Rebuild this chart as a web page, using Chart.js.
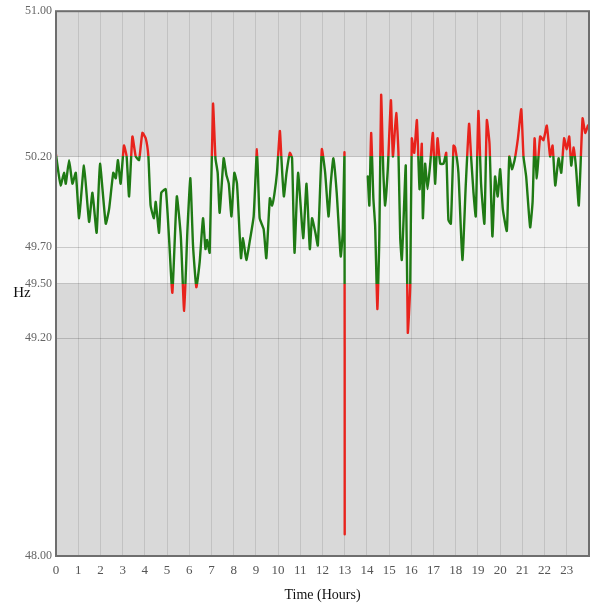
<!DOCTYPE html>
<html>
<head>
<meta charset="utf-8">
<script src="https://cdn.jsdelivr.net/npm/chart.js@4"></script>
<style>
html,body{margin:0;padding:0;background:#fff;}
#wrap{width:592px;height:606px;}
</style>
</head>
<body>
<div id="wrap"><canvas id="c" width="592" height="606"></canvas></div>
<script>
const hours = [0.00,0.10,0.21,0.36,0.44,0.59,0.74,0.89,1.04,1.26,1.49,1.64,1.83,1.98,2.24,2.39,2.58,2.69,2.79,2.91,3.06,3.18,3.29,3.44,3.59,3.74,3.89,4.04,4.16,4.26,4.41,4.49,4.64,4.74,4.94,5.09,5.24,5.44,5.62,5.77,5.92,6.05,6.17,6.32,6.47,6.62,6.73,6.80,6.92,7.07,7.18,7.28,7.37,7.55,7.67,7.78,7.90,8.03,8.15,8.33,8.42,8.57,8.72,8.90,9.05,9.17,9.35,9.47,9.63,9.73,9.83,9.95,10.08,10.15,10.26,10.38,10.53,10.63,10.74,10.90,11.13,11.28,11.43,11.53,11.68,11.79,11.97,12.12,12.27,12.37,12.49,12.64,12.82,12.91,12.99,13.00,13.01,14.04,14.11,14.19,14.29,14.37,14.47,14.56,14.64,14.74,14.82,14.94,15.08,15.17,15.32,15.42,15.50,15.57,15.64,15.75,15.84,15.95,16.02,16.13,16.25,16.37,16.47,16.52,16.62,16.73,16.85,16.97,17.07,17.18,17.30,17.45,17.57,17.67,17.78,17.90,17.97,18.12,18.30,18.45,18.60,18.69,18.80,18.90,19.02,19.14,19.29,19.40,19.52,19.65,19.77,19.89,20.00,20.12,20.30,20.41,20.53,20.65,20.80,20.95,21.05,21.17,21.35,21.46,21.55,21.65,21.80,21.95,22.10,22.25,22.36,22.48,22.63,22.75,22.88,23.00,23.11,23.20,23.31,23.42,23.54,23.71,23.83,23.95];
const freqHz = [50.21,50.12,50.04,50.11,50.05,50.18,50.05,50.11,49.86,50.15,49.84,50.00,49.78,50.16,49.83,49.91,50.11,50.08,50.18,50.05,50.26,50.20,49.98,50.31,50.20,50.18,50.33,50.30,50.20,49.93,49.86,49.95,49.78,50.00,50.02,49.75,49.45,49.98,49.76,49.35,49.80,50.08,49.71,49.48,49.62,49.86,49.69,49.74,49.67,50.49,50.19,50.11,49.89,50.19,50.10,50.05,49.87,50.11,50.05,49.64,49.75,49.63,49.73,49.87,50.24,49.86,49.80,49.64,49.97,49.93,49.99,50.11,50.34,50.19,49.98,50.11,50.22,50.19,49.67,50.11,49.75,50.05,49.69,49.86,49.78,49.71,50.24,50.11,49.87,50.05,50.19,50.00,49.65,49.78,50.22,48.12,null,50.09,49.93,50.33,49.97,49.82,49.36,49.76,50.54,50.11,49.93,50.13,50.51,50.20,50.44,50.22,49.75,49.63,49.82,50.15,49.23,49.49,50.30,50.22,50.40,50.02,50.27,49.86,50.16,50.02,50.16,50.33,50.05,50.30,50.16,50.16,50.22,49.85,49.83,50.26,50.25,50.11,49.63,50.04,50.38,50.20,50.00,49.87,50.45,50.05,49.83,50.40,50.27,49.76,50.09,49.98,50.13,49.91,49.79,50.20,50.13,50.18,50.30,50.46,50.20,50.09,49.81,49.95,50.30,50.08,50.31,50.29,50.37,50.20,50.26,50.04,50.19,50.11,50.30,50.24,50.31,50.15,50.25,50.13,49.93,50.41,50.33,50.37];
const yTicks = [48.00, 49.20, 49.50, 49.70, 50.20, 51.00];
const xTicks = [0,1,2,3,4,5,6,7,8,9,10,11,12,13,14,15,16,17,18,19,20,21,22,23];
const bandLow = 49.50, bandHigh = 50.20;
const GREEN = '#1f7a14', RED = '#e8231c';

const points = hours.map((h,i)=>({x:h, y:freqHz[i]}));

const bgPlugin = {
  id:'bg',
  beforeDraw(chart){
    const {ctx, chartArea:a, scales:{y}} = chart;
    ctx.save();
    ctx.fillStyle = '#d9d9d9';
    ctx.fillRect(a.left, a.top, a.right-a.left, a.bottom-a.top);
    const t = y.getPixelForValue(bandHigh), b = y.getPixelForValue(bandLow);
    ctx.fillStyle = '#f2f2f2';
    ctx.fillRect(a.left, t, a.right-a.left, b-t);
    ctx.restore();
  },
  afterDraw(chart){
    const {ctx, chartArea:a} = chart;
    ctx.save();
    ctx.strokeStyle = '#6e6e6e';
    ctx.lineWidth = 2;
    ctx.strokeRect(a.left, a.top, a.right-a.left, a.bottom-a.top);
    ctx.fillStyle = '#111';
    ctx.font = '15px "Liberation Serif"';
    ctx.textAlign = 'center';
    ctx.textBaseline = 'middle';
    ctx.fillText('Hz', 22, (a.top+a.bottom)/2 + 9);
    ctx.restore();
  }
};

function lineColor(context){
  const chart = context.chart;
  const {ctx, chartArea, scales} = chart;
  if(!chartArea) return GREEN;
  const top = chartArea.top, bottom = chartArea.bottom;
  const g = ctx.createLinearGradient(0, top, 0, bottom);
  const p = v => Math.min(1, Math.max(0, (scales.y.getPixelForValue(v)-top)/(bottom-top)));
  g.addColorStop(0, RED);
  g.addColorStop(p(bandHigh), RED);
  g.addColorStop(p(bandHigh), GREEN);
  g.addColorStop(p(bandLow), GREEN);
  g.addColorStop(p(bandLow), RED);
  g.addColorStop(1, RED);
  return g;
}

new Chart(document.getElementById('c'), {
  type:'line',
  data:{ datasets:[{
    data: points,
    borderColor: lineColor,
    borderWidth: 2.4,
    borderJoinStyle: 'round',
    borderCapStyle: 'round',
    pointRadius: 0,
    tension: 0.15,
    spanGaps: false,
    fill: false
  }]},
  options:{
    responsive:false,
    animation:false,
    layout:{padding:{top:10, right:3, left:0, bottom:0}},
    plugins:{legend:{display:false}, tooltip:{enabled:false}},
    scales:{
      x:{
        type:'linear', min:0, max:24,
        afterBuildTicks(s){ s.ticks = xTicks.map(v=>({value:v})); },
        afterFit(s){ s.height = 50; },
        ticks:{ color:'#555', font:{family:'"Liberation Serif"', size:13}, padding:7, maxRotation:0, autoSkip:false,
          callback:v=>String(v) },
        grid:{ color:'rgba(0,0,0,0.10)', drawTicks:false, lineWidth:1 },
        border:{ display:false },
        title:{ display:true, text:'Time (Hours)', color:'#111', font:{family:'"Liberation Serif"', size:14}, padding:{top:0,bottom:2} }
      },
      y:{
        type:'linear', min:48, max:51,
        afterBuildTicks(s){ s.ticks = yTicks.map(v=>({value:v})); },
        afterFit(s){ s.width = 56; },
        ticks:{ color:'#666', font:{family:'"Liberation Serif"', size:12}, padding:4, autoSkip:false,
          callback:v=>Number(v).toFixed(2) },
        grid:{ color:'rgba(0,0,0,0.17)', drawTicks:false, lineWidth:1 },
        border:{ display:false }
      }
    }
  },
  plugins:[bgPlugin]
});
</script>
</body>
</html>
